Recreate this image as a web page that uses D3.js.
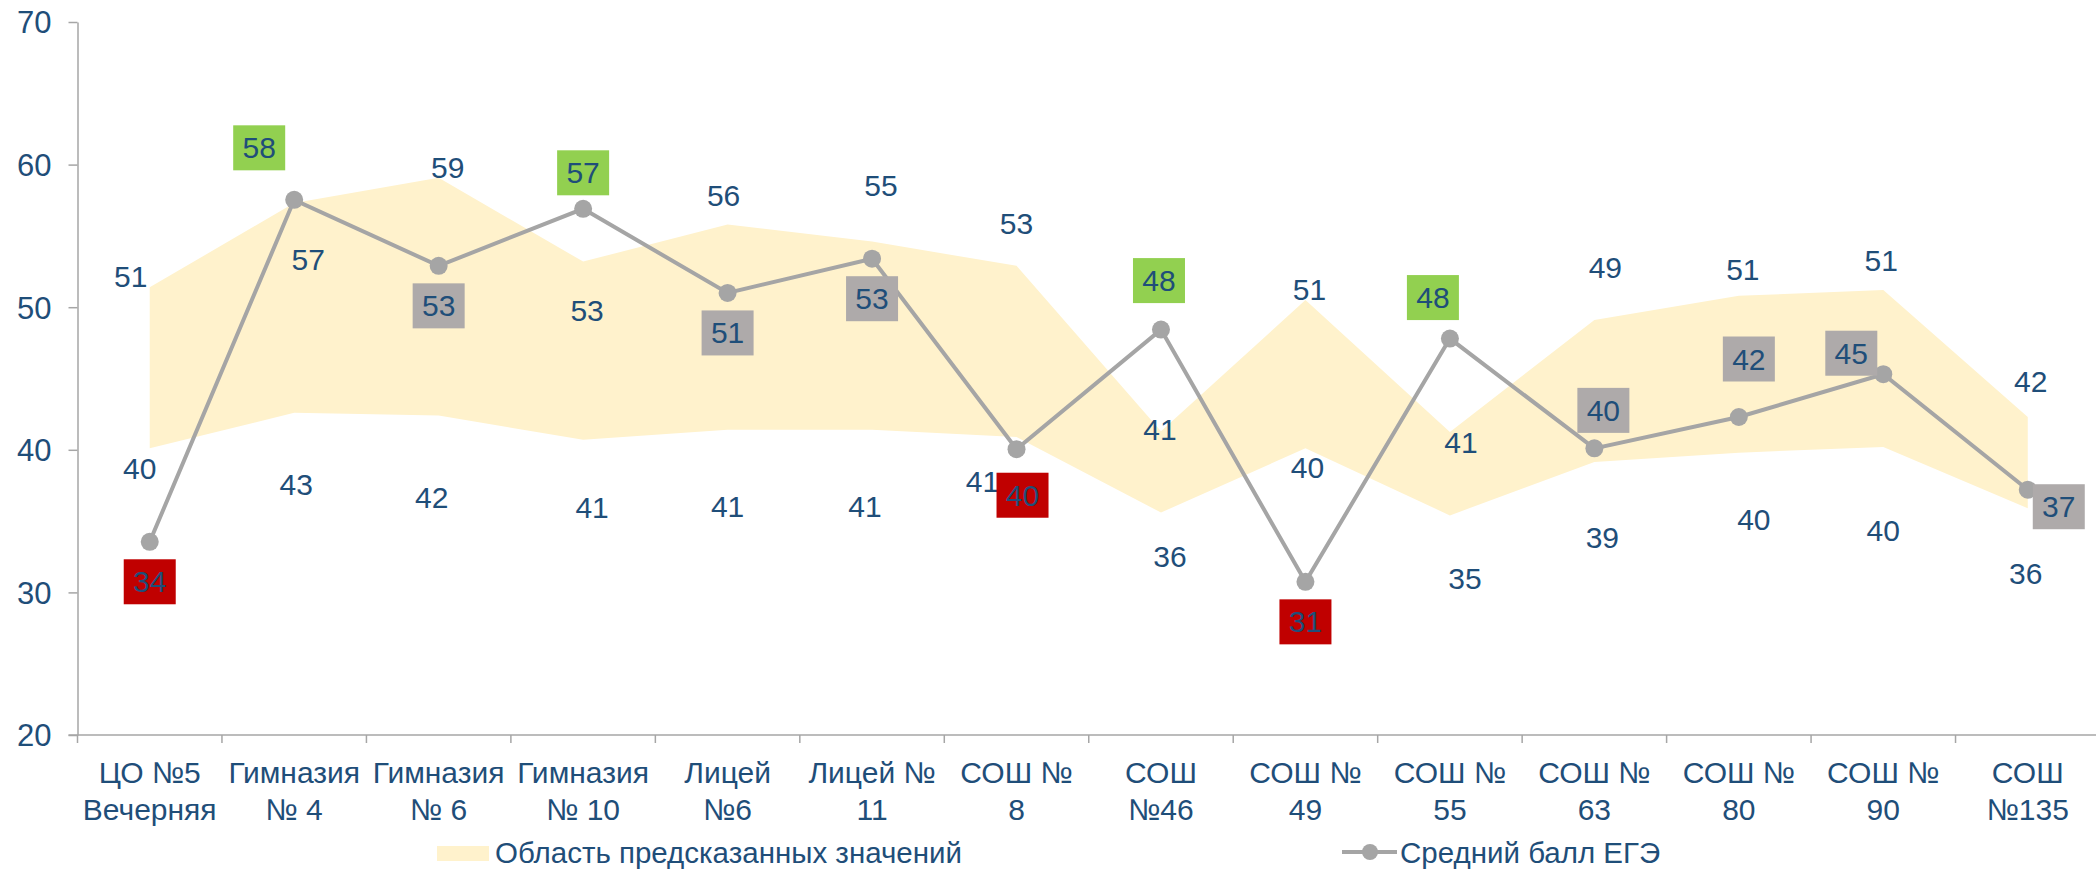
<!DOCTYPE html>
<html>
<head>
<meta charset="utf-8">
<script src="https://cdn.jsdelivr.net/npm/d3@7"></script>
<style>
  body { margin: 0; background: #fff; }
  text { font-family: "Liberation Sans", Arial, sans-serif; fill: #1F4E79; }
</style>
</head>
<body>
<svg id="chart" width="2096" height="869"></svg>
<script>
// schools (two-line labels)
const schools = [
  ["ЦО №5", "Вечерняя"], ["Гимназия", "№ 4"], ["Гимназия", "№ 6"], ["Гимназия", "№ 10"],
  ["Лицей", "№6"], ["Лицей №", "11"], ["СОШ №", "8"], ["СОШ", "№46"], ["СОШ №", "49"],
  ["СОШ №", "55"], ["СОШ №", "63"], ["СОШ №", "80"], ["СОШ №", "90"], ["СОШ", "№135"]
];
// average exam score
const avgScore = [33.55, 57.53, 52.9, 56.9, 51.0, 53.4, 40.04, 48.43, 30.74, 47.8, 40.1, 42.3, 45.3, 37.2];
// predicted range
const predHigh = [51.4, 57.3, 59.07, 53.2, 55.8, 54.6, 52.9, 41.3, 50.5, 41.25, 49.1, 50.8, 51.2, 42.3];
const predLow  = [40.1, 42.6, 42.4, 40.7, 41.4, 41.4, 40.9, 35.6, 40.1, 35.4, 39.15, 39.8, 40.2, 35.9];
const yTicks = [20, 30, 40, 50, 60, 70];
const legendNames = ["Область предсказанных значений", "Средний балл ЕГЭ"];

// label nudges (layout only), px from the value's position
const boxShift  = [[0,40],[-35,-52],[0,40],[0,-36],[0,40],[0,40],[6,46],[-2,-49],[0,40],[-17,-41],[9,-38],[10,-58],[-32,-21],[31,17]];
const highShift = [[-19,-11],[14,56],[9,-10],[4,49],[-4,-29],[9,-56],[0,-42],[-1,-2],[4,-11],[11,11],[11,-53],[4,-26],[-2,-30],[3,-36]];
const lowShift  = [[-10,20],[2,72],[-7,82],[9,68],[0,77],[-7,77],[-34,45],[9,44],[2,19],[15,63],[8,76],[15,67],[0,84],[-2,65]];

const svg = d3.select('#chart');
const plotLeft = 77.5, plotRight = 2100, plotTop = 22, plotBottom = 735;

const x = d3.scaleBand().domain(d3.range(schools.length)).range([plotLeft, plotRight]).padding(0);
const cx = i => x(i) + x.bandwidth() / 2;
const y = d3.scaleLinear().domain([20, 70]).range([plotBottom, plotTop]);

// predicted band
const area = d3.area()
  .x((d, i) => cx(i))
  .y0((d, i) => y(predLow[i]))
  .y1((d, i) => y(predHigh[i]));
svg.append('path')
  .datum(predHigh)
  .attr('d', area)
  .attr('fill', '#FFF2CC');

// axes
const yAxis = svg.append('g')
  .attr('transform', `translate(${plotLeft},0)`)
  .call(d3.axisLeft(y).tickValues(yTicks).tickSize(9).tickPadding(17).tickSizeOuter(0));
yAxis.selectAll('text').style('font-size', '31px').attr('dy', '0.35em');

const xAxis = svg.append('g').attr('transform', `translate(0,${plotBottom})`);
xAxis.append('line').attr('x1', plotLeft - 9).attr('x2', 2096).attr('y1', 0).attr('y2', 0);
xAxis.selectAll('.tk')
  .data(d3.range(schools.length))
  .join('line')
  .attr('class', 'tk')
  .attr('x1', i => x(i)).attr('x2', i => x(i))
  .attr('y1', 0).attr('y2', 8);
xAxis.selectAll('.cat')
  .data(schools)
  .join('text')
  .attr('class', 'cat')
  .attr('text-anchor', 'middle')
  .style('font-size', '30px')
  .each(function (d, i) {
    d3.select(this).selectAll('tspan')
      .data(d)
      .join('tspan')
      .attr('x', cx(i))
      .attr('y', (t, k) => 48 + k * 37)
      .text(t => t);
  });

svg.selectAll('.domain, .tick line, g > line')
  .attr('stroke', '#A6A6A6')
  .attr('stroke-width', 1.5);

// band value labels
const fmt = v => String(Math.round(v));
svg.append('g').selectAll('text')
  .data(predHigh)
  .join('text')
  .attr('x', (d, i) => cx(i) + highShift[i][0])
  .attr('y', (d, i) => y(d) + highShift[i][1])
  .attr('dy', '0.35em')
  .attr('text-anchor', 'middle')
  .style('font-size', '30px')
  .text(fmt);
svg.append('g').selectAll('text')
  .data(predLow)
  .join('text')
  .attr('x', (d, i) => cx(i) + lowShift[i][0])
  .attr('y', (d, i) => y(d) + lowShift[i][1])
  .attr('dy', '0.35em')
  .attr('text-anchor', 'middle')
  .style('font-size', '30px')
  .text(fmt);

// average line
const line = d3.line().x((d, i) => cx(i)).y(d => y(d));
svg.append('path')
  .datum(avgScore)
  .attr('d', line)
  .attr('fill', 'none')
  .attr('stroke', '#A5A5A5')
  .attr('stroke-width', 4);
svg.append('g').selectAll('circle')
  .data(avgScore)
  .join('circle')
  .attr('cx', (d, i) => cx(i))
  .attr('cy', d => y(d))
  .attr('r', 9)
  .attr('fill', '#A5A5A5');

// boxed labels, coloured against the predicted range
const boxColor = (d, i) => d > predHigh[i] ? '#92D050' : d < predLow[i] ? '#C00000' : '#AEAAAA';
const boxes = svg.append('g').selectAll('g')
  .data(avgScore)
  .join('g')
  .attr('transform', (d, i) => `translate(${cx(i) + boxShift[i][0]},${y(d) + boxShift[i][1]})`);
boxes.append('rect')
  .attr('x', -26).attr('y', -22.5)
  .attr('width', 52).attr('height', 45)
  .attr('fill', boxColor);
boxes.append('text')
  .attr('text-anchor', 'middle')
  .attr('dy', '0.35em')
  .style('font-size', '30px')
  .text(fmt);

// legend
const lg = svg.append('g');
lg.append('rect').attr('x', 437).attr('y', 846).attr('width', 52).attr('height', 15).attr('fill', '#FFF2CC');
lg.append('text').attr('x', 495).attr('y', 853).attr('dy', '0.35em').style('font-size', '29.5px').text(legendNames[0]);
lg.append('line').attr('x1', 1342).attr('x2', 1397).attr('y1', 852).attr('y2', 852)
  .attr('stroke', '#A5A5A5').attr('stroke-width', 4);
lg.append('circle').attr('cx', 1370).attr('cy', 852).attr('r', 8).attr('fill', '#A5A5A5');
lg.append('text').attr('x', 1400).attr('y', 853).attr('dy', '0.35em').style('font-size', '29.5px').text(legendNames[1]);
</script>
</body>
</html>
